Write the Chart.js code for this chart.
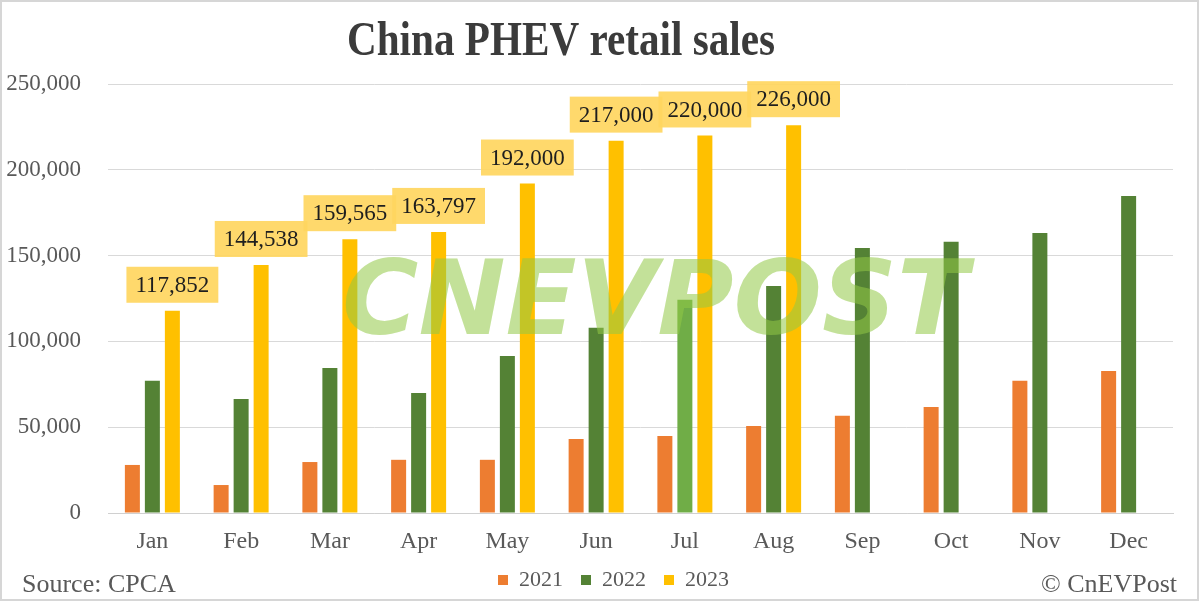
<!DOCTYPE html>
<html>
<head>
<meta charset="utf-8">
<script src="https://cdn.jsdelivr.net/npm/chart.js@4.4.1/dist/chart.umd.min.js"></script>
<style>
  html, body { margin: 0; padding: 0; background: #ffffff; }
  #wrap { width: 1200px; height: 601px; position: relative; }
</style>
</head>
<body>
<div id="wrap"><canvas id="c" width="1200" height="601"></canvas></div>
<script>
// ---- Data ----
const months = ["Jan", "Feb", "Mar", "Apr", "May", "Jun", "Jul", "Aug", "Sep", "Oct", "Nov", "Dec"];
const seriesNames = ["2021", "2022", "2023"];
const sales2021 = [28000, 16300, 29700, 31000, 31000, 43100, 44900, 50700, 56600, 61800, 77000, 82800];
const sales2022 = [77000, 66500, 84500, 70000, 91500, 107900, 124200, 132300, 154500, 158000, 163200, 184800];
const sales2023 = [117852, 144538, 159565, 163797, 192000, 217000, 220000, 226000, null, null, null, null];
const yTickValues = [0, 50000, 100000, 150000, 200000, 250000];
const chartTitle = "China PHEV retail sales";
const sourceText = "Source: CPCA";
const creditText = "\u00A9 CnEVPost";
const watermarkText = "CNEVPOST";

// ---- Styles ----
const ORANGE = "#ED7D31";
const GREEN = "#548235";
const GREEN_LIGHT = "#70AD47";
const YELLOW = "#FFC000";
const SERIF = '"Liberation Serif", "Times New Roman", serif';
const fmt = v => v.toLocaleString("en-US");

const green2022Colors = months.map(m => (m === "Jul" ? GREEN_LIGHT : GREEN));

const framePlugin = {
  id: "frame",
  beforeDraw(chart) {
    const ctx = chart.ctx;
    ctx.save();
    ctx.fillStyle = "#ffffff";
    ctx.fillRect(0, 0, chart.width, chart.height);
    ctx.restore();
  },
  afterLayout(chart) {
    // place the legend row like the reference
    const lg = chart.legend;
    if (lg) { lg.left += 27; lg.right += 27; lg.top -= 12; lg.bottom -= 12; }
  },
  afterDraw(chart) {
    const ctx = chart.ctx;
    ctx.save();
    // border
    ctx.strokeStyle = "#d6d6d6";
    ctx.lineWidth = 2;
    ctx.strokeRect(1, 1, chart.width - 3, chart.height - 2);
    // title
    ctx.font = "bold 48px " + SERIF;
    ctx.fillStyle = "#3b3b3b";
    ctx.textAlign = "center";
    ctx.textBaseline = "alphabetic";
    const tw = ctx.measureText(chartTitle).width;
    const targetW = 428;
    ctx.translate(561, 55);
    ctx.scale(targetW / tw, 1);
    ctx.fillText(chartTitle, 0, 0);
    ctx.restore();
    // footer texts
    ctx.save();
    ctx.font = "26px " + SERIF;
    ctx.fillStyle = "#595959";
    ctx.textBaseline = "alphabetic";
    ctx.textAlign = "left";
    ctx.fillText(sourceText, 22, 592);
    ctx.textAlign = "right";
    ctx.fillText(creditText, 1177, 592);
    ctx.restore();
  }
};

const overlayPlugin = {
  id: "overlay",
  afterDatasetsDraw(chart) {
    const ctx = chart.ctx;
    const ys = chart.scales.y;
    // watermark
    ctx.save();
    ctx.font = "bold italic 104px \"DejaVu Sans\", sans-serif";
    const ww = ctx.measureText(watermarkText).width;
    const left = 342, right = 968;
    const top = ys.getPixelForValue(150000) + 2;
    const bottom = top + 76;
    ctx.fillStyle = "rgba(146, 200, 70, 0.55)";
    ctx.textBaseline = "alphabetic";
    ctx.textAlign = "left";
    ctx.translate(left, bottom);
    ctx.scale((right - left) / ww, 1);
    ctx.fillText(watermarkText, 0, 0);
    ctx.restore();

    // 2023 data labels
    const meta = chart.getDatasetMeta(2);
    ctx.save();
    ctx.font = "23px " + SERIF;
    ctx.textAlign = "center";
    ctx.textBaseline = "middle";
    meta.data.forEach((el, i) => {
      const v = sales2023[i];
      if (v === null || v === undefined) return;
      const txt = fmt(v);
      const w = ctx.measureText(txt).width + 18;
      const h = 36;
      const by = el.y - 8 - h;
      ctx.fillStyle = "rgba(255, 214, 95, 0.92)";
      ctx.fillRect(el.x - w / 2, by, w, h);
      ctx.fillStyle = "#1e1e1e";
      ctx.fillText(txt, el.x, by + h / 2 + 1);
    });
    ctx.restore();
  }
};

new Chart(document.getElementById("c"), {
  type: "bar",
  data: {
    labels: months,
    datasets: [
      { label: seriesNames[0], data: sales2021, backgroundColor: ORANGE },
      { label: seriesNames[1], data: sales2022, backgroundColor: green2022Colors },
      { label: seriesNames[2], data: sales2023, backgroundColor: YELLOW }
    ]
  },
  options: {
    responsive: false,
    animation: false,
    devicePixelRatio: 1,
    layout: { padding: { top: 84, left: 0, right: 27, bottom: -12 } },
    datasets: { bar: { categoryPercentage: 0.676, barPercentage: 0.75 } },
    scales: {
      x: {
        grid: { display: false, drawTicks: false },
        border: { display: true, color: "#d0d0d0", width: 1 },
        ticks: { color: "#595959", font: { family: SERIF, size: 24 }, padding: 14 },
        afterFit(scale) { scale.height = 50; }
      },
      y: {
        min: 0,
        max: 250000,
        afterBuildTicks(scale) { scale.ticks = yTickValues.map(v => ({ value: v })); },
        grid: { color: "#d9d9d9", lineWidth: 1, drawTicks: false },
        border: { display: false },
        ticks: { color: "#595959", font: { family: SERIF, size: 23 }, padding: 27, callback: v => fmt(v) },
        afterFit(scale) { scale.width = 108; }
      }
    },
    plugins: {
      title: { display: false },
      tooltip: { enabled: false },
      legend: {
        display: true,
        position: "bottom",
        labels: {
          boxWidth: 10,
          boxHeight: 10,
          padding: 18,
          color: "#595959",
          font: { family: SERIF, size: 22 }
        }
      }
    }
  },
  plugins: [framePlugin, overlayPlugin]
});
</script>
</body>
</html>
